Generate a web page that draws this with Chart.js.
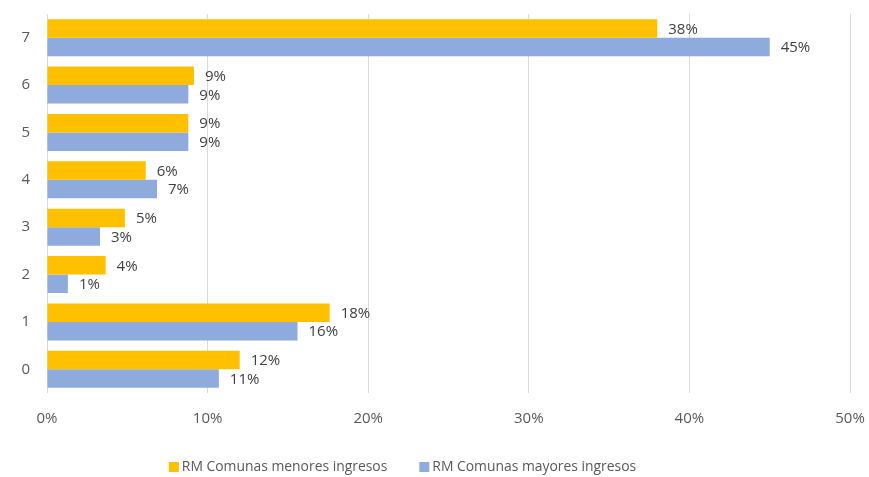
<!DOCTYPE html>
<html>
<head>
<meta charset="utf-8">
<script src="https://cdn.jsdelivr.net/npm/chart.js@4"></script>
<style>
  html, body { margin: 0; padding: 0; background: #fff; }
  #wrap { width: 869px; height: 477px; }
</style>
</head>
<body>
<div id="wrap"><canvas id="chart"></canvas></div>
<script>
const categories = ["7", "6", "5", "4", "3", "2", "1", "0"];
const menoresIngresos = [38.0, 9.15, 8.8, 6.15, 4.85, 3.65, 17.6, 12.0];
const mayoresIngresos = [45.0, 8.8, 8.8, 6.85, 3.3, 1.3, 15.6, 10.7];
const xTicks = [0, 10, 20, 30, 40, 50];

const FONT = "'Open Sans', 'Liberation Sans', sans-serif";

// draws the % label just past the end of each bar
const barLabels = {
  id: "barLabels",
  afterDatasetsDraw(chart) {
    const ctx = chart.ctx;
    ctx.save();
    ctx.font = "15px " + FONT;
    ctx.fillStyle = "#404040";
    ctx.textAlign = "left";
    ctx.textBaseline = "middle";
    chart.data.datasets.forEach((ds, i) => {
      chart.getDatasetMeta(i).data.forEach((bar, j) => {
        ctx.fillText(Math.round(ds.data[j]) + "%", bar.x + 11, bar.y + 1);
      });
    });
    ctx.restore();
  }
};

// legend drawn by hand so the spacing matches the original
const legendRow = {
  id: "legendRow",
  afterDraw(chart) {
    const ctx = chart.ctx;
    const gap = 32, box = 10, textGap = 3, y = 467;
    ctx.save();
    ctx.font = "13.9px " + FONT;
    ctx.textBaseline = "middle";
    ctx.textAlign = "left";
    const items = chart.data.datasets.map((ds) => ({
      text: ds.label,
      color: ds.backgroundColor,
      w: box + textGap + ctx.measureText(ds.label).width
    }));
    const total = items.reduce((s, it) => s + it.w, 0) + gap * (items.length - 1);
    let x = chart.width / 2 - 32 - total / 2;
    items.forEach((it) => {
      ctx.fillStyle = it.color;
      ctx.fillRect(x, y - box / 2, box, box);
      ctx.fillStyle = "#595959";
      ctx.fillText(it.text, x + box + textGap, y);
      x += it.w + gap;
    });
    ctx.restore();
  }
};

new Chart(document.getElementById("chart"), {
  type: "bar",
  data: {
    labels: categories,
    datasets: [
      {
        label: "RM Comunas menores ingresos",
        data: menoresIngresos,
        backgroundColor: "#FFC000",
        categoryPercentage: 0.78,
        barPercentage: 1.0
      },
      {
        label: "RM Comunas mayores ingresos",
        data: mayoresIngresos,
        backgroundColor: "#8FAADC",
        categoryPercentage: 0.78,
        barPercentage: 1.0
      }
    ]
  },
  options: {
    indexAxis: "y",
    responsive: true,
    maintainAspectRatio: false,
    animation: false,
    layout: { padding: { left: 0, right: 19, top: 14, bottom: 39 } },
    scales: {
      x: {
        min: 0,
        max: 50,
        afterBuildTicks(scale) {
          scale.ticks = xTicks.map((v) => ({ value: v }));
        },
        afterFit(scale) {
          scale.height = 45;
          scale.paddingLeft = 0;
          scale.paddingRight = 0;
        },
        grid: { color: "#d9d9d9", drawTicks: false },
        border: { display: false },
        ticks: {
          padding: 17,
          color: "#595959",
          font: { family: FONT, size: 15 },
          callback: (v) => v + "%"
        }
      },
      y: {
        afterFit(scale) {
          scale.width = 47;
          scale.paddingTop = 0;
          scale.paddingBottom = 0;
        },
        grid: { display: false },
        border: { display: false },
        ticks: {
          padding: 9,
          color: "#595959",
          font: { family: FONT, size: 15 }
        }
      }
    },
    plugins: {
      legend: { display: false },
      tooltip: { enabled: false }
    }
  },
  plugins: [barLabels, legendRow]
});
</script>
</body>
</html>
